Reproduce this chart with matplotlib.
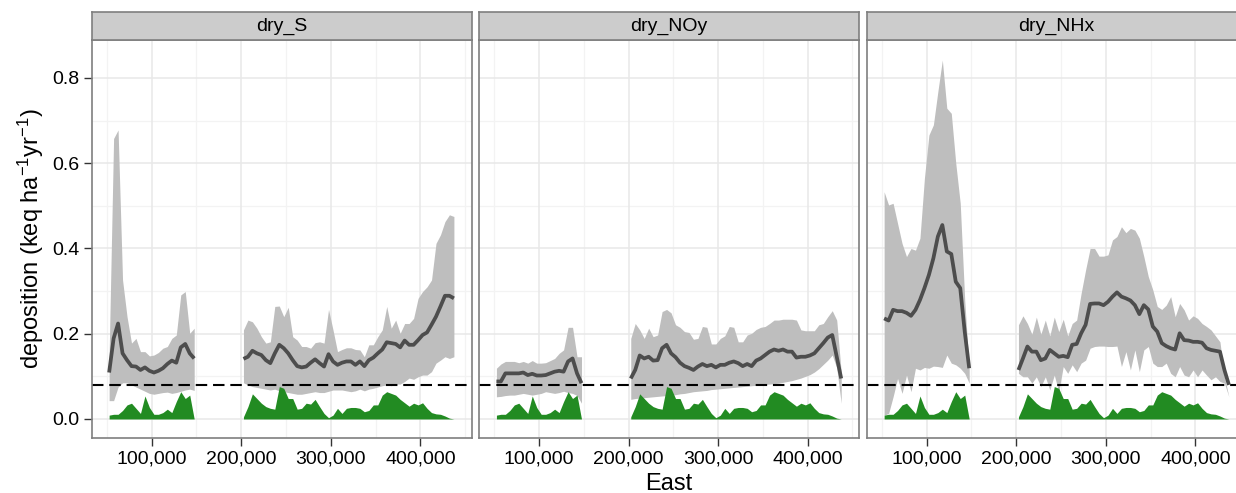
import numpy as np
import matplotlib
matplotlib.use("Agg")
import matplotlib.pyplot as plt
from matplotlib.ticker import FuncFormatter

plt.rcParams['font.family'] = ['Liberation Sans', 'DejaVu Sans']
plt.rcParams['mathtext.fontset'] = 'custom'
plt.rcParams['mathtext.rm'] = 'Liberation Sans'
plt.rcParams['mathtext.it'] = 'Liberation Sans:italic'

# ---------------- data ----------------
panels = ["dry_S", "dry_NOy", "dry_NHx"]

east_seg1 = [52500, 57500, 62500, 67500, 72500, 77500, 82500, 87500, 92500, 97500,
             102500, 107500, 112500, 117500, 122500, 127500, 132500, 137500, 142500, 147500]
east_seg2 = [202500, 207500, 212500, 217500, 222500, 227500, 232500, 237500, 242500, 247500,
             252500, 257500, 262500, 267500, 272500, 277500, 282500, 287500, 292500, 297500,
             302500, 307500, 312500, 317500, 322500, 327500, 332500, 337500, 342500, 347500,
             352500, 357500, 362500, 367500, 372500, 377500, 382500, 387500, 392500, 397500,
             402500, 407500, 412500, 417500, 422500, 427500, 432500, 437500]

# green area (same in every panel)
green_seg1 = [0.009, 0.011, 0.011, 0.020, 0.033, 0.037, 0.025, 0.013, 0.054, 0.027,
              0.011, 0.011, 0.015, 0.023, 0.015, 0.041, 0.064, 0.048, 0.056, 0.0]
green_seg2 = [0.005, 0.029, 0.059, 0.048, 0.037, 0.029, 0.025, 0.023, 0.076, 0.072,
              0.048, 0.048, 0.023, 0.025, 0.037, 0.035, 0.046, 0.029, 0.013, 0.003,
              0.009, 0.025, 0.013, 0.025, 0.027, 0.027, 0.025, 0.017, 0.020, 0.033,
              0.033, 0.056, 0.064, 0.060, 0.056, 0.046, 0.038, 0.030, 0.037, 0.033,
              0.038, 0.025, 0.015, 0.012, 0.011, 0.007, 0.002, 0.0]

# dry_S
s_mid1 = [0.109, 0.189, 0.224, 0.154, 0.138, 0.124, 0.123, 0.115, 0.121, 0.113,
          0.109, 0.113, 0.119, 0.129, 0.137, 0.132, 0.168, 0.176, 0.154, 0.142]
s_hi1 = [0.150, 0.658, 0.678, 0.326, 0.240, 0.178, 0.189, 0.158, 0.158, 0.148,
         0.150, 0.156, 0.166, 0.170, 0.189, 0.197, 0.291, 0.299, 0.201, 0.213]
s_lo1 = [0.043, 0.043, 0.075, 0.085, 0.085, 0.080, 0.075, 0.070, 0.065, 0.060,
         0.058, 0.060, 0.062, 0.063, 0.060, 0.062, 0.065, 0.068, 0.070, 0.067]
s_mid2 = [0.141, 0.146, 0.160, 0.154, 0.150, 0.138, 0.131, 0.154, 0.174, 0.166,
          0.154, 0.138, 0.124, 0.121, 0.123, 0.132, 0.140, 0.131, 0.123, 0.152,
          0.135, 0.127, 0.132, 0.135, 0.135, 0.127, 0.135, 0.124, 0.138, 0.144,
          0.154, 0.163, 0.180, 0.178, 0.176, 0.168, 0.184, 0.174, 0.174, 0.185,
          0.197, 0.203, 0.221, 0.240, 0.264, 0.289, 0.289, 0.283]
s_hi2 = [0.209, 0.232, 0.228, 0.213, 0.193, 0.178, 0.181, 0.264, 0.265, 0.240,
         0.262, 0.193, 0.185, 0.170, 0.170, 0.166, 0.179, 0.181, 0.178, 0.257,
         0.209, 0.158, 0.163, 0.167, 0.167, 0.163, 0.162, 0.146, 0.174, 0.174,
         0.193, 0.209, 0.264, 0.213, 0.232, 0.201, 0.224, 0.224, 0.236, 0.283,
         0.299, 0.310, 0.326, 0.412, 0.432, 0.463, 0.479, 0.475]
s_lo2 = [0.085, 0.080, 0.076, 0.074, 0.072, 0.070, 0.068, 0.070, 0.066, 0.064,
         0.062, 0.060, 0.058, 0.058, 0.060, 0.062, 0.064, 0.062, 0.062, 0.065,
         0.068, 0.068, 0.068, 0.066, 0.064, 0.066, 0.070, 0.066, 0.070, 0.072,
         0.075, 0.078, 0.080, 0.078, 0.082, 0.082, 0.088, 0.096, 0.093, 0.099,
         0.103, 0.103, 0.111, 0.131, 0.138, 0.146, 0.142, 0.146]

# dry_NOy
n_mid1 = [0.088, 0.088, 0.107, 0.107, 0.107, 0.107, 0.109, 0.103, 0.106, 0.102,
          0.102, 0.103, 0.107, 0.111, 0.113, 0.111, 0.135, 0.142, 0.107, 0.084]
n_hi1 = [0.119, 0.129, 0.135, 0.135, 0.135, 0.132, 0.135, 0.131, 0.137, 0.131,
         0.131, 0.132, 0.137, 0.142, 0.154, 0.162, 0.215, 0.215, 0.146, 0.146]
n_lo1 = [0.052, 0.053, 0.055, 0.056, 0.056, 0.058, 0.060, 0.058, 0.056, 0.058,
         0.060, 0.064, 0.062, 0.060, 0.062, 0.065, 0.062, 0.060, 0.055, 0.037]
n_mid2 = [0.095, 0.115, 0.149, 0.142, 0.146, 0.137, 0.138, 0.166, 0.174, 0.154,
          0.145, 0.132, 0.124, 0.120, 0.115, 0.123, 0.129, 0.124, 0.127, 0.121,
          0.127, 0.127, 0.132, 0.135, 0.131, 0.124, 0.129, 0.124, 0.137, 0.142,
          0.150, 0.158, 0.163, 0.160, 0.163, 0.158, 0.158, 0.144, 0.146, 0.146,
          0.149, 0.154, 0.166, 0.178, 0.191, 0.197, 0.146, 0.095]
n_hi2 = [0.189, 0.224, 0.209, 0.189, 0.213, 0.193, 0.197, 0.252, 0.257, 0.249,
         0.221, 0.215, 0.205, 0.203, 0.187, 0.189, 0.217, 0.215, 0.176, 0.176,
         0.189, 0.195, 0.217, 0.215, 0.181, 0.181, 0.197, 0.201, 0.210, 0.215,
         0.217, 0.224, 0.232, 0.232, 0.234, 0.234, 0.234, 0.232, 0.209, 0.207,
         0.207, 0.207, 0.221, 0.224, 0.240, 0.254, 0.232, 0.110]
n_lo2 = [0.046, 0.048, 0.049, 0.050, 0.051, 0.052, 0.053, 0.054, 0.055, 0.056,
         0.057, 0.059, 0.060, 0.062, 0.064, 0.065, 0.066, 0.067, 0.069, 0.070,
         0.071, 0.072, 0.073, 0.074, 0.075, 0.076, 0.077, 0.078, 0.079, 0.080,
         0.081, 0.082, 0.083, 0.084, 0.086, 0.088, 0.090, 0.093, 0.096, 0.100,
         0.104, 0.110, 0.118, 0.128, 0.138, 0.150, 0.120, 0.037]

# dry_NHx
h_mid1 = [0.236, 0.231, 0.256, 0.253, 0.253, 0.249, 0.242, 0.256, 0.279, 0.307,
          0.338, 0.377, 0.428, 0.455, 0.393, 0.387, 0.322, 0.307, 0.205, 0.119]
h_hi1 = [0.533, 0.502, 0.506, 0.459, 0.412, 0.381, 0.400, 0.396, 0.424, 0.565,
         0.666, 0.690, 0.768, 0.842, 0.729, 0.717, 0.600, 0.506, 0.279, 0.115]
h_lo1 = [0.009, 0.013, 0.052, 0.095, 0.060, 0.103, 0.064, 0.119, 0.115, 0.121,
         0.119, 0.124, 0.123, 0.121, 0.150, 0.131, 0.127, 0.119, 0.107, 0.084]
h_mid2 = [0.115, 0.142, 0.170, 0.158, 0.158, 0.138, 0.142, 0.162, 0.154, 0.146,
          0.148, 0.145, 0.174, 0.176, 0.201, 0.221, 0.270, 0.271, 0.271, 0.267,
          0.275, 0.287, 0.297, 0.287, 0.283, 0.278, 0.267, 0.246, 0.267, 0.257,
          0.217, 0.205, 0.178, 0.171, 0.166, 0.163, 0.201, 0.185, 0.184, 0.181,
          0.181, 0.179, 0.166, 0.162, 0.160, 0.158, 0.115, 0.080]
h_hi2 = [0.221, 0.242, 0.224, 0.199, 0.239, 0.199, 0.232, 0.195, 0.239, 0.205,
         0.234, 0.195, 0.224, 0.232, 0.295, 0.350, 0.400, 0.400, 0.382, 0.382,
         0.385, 0.420, 0.428, 0.451, 0.437, 0.447, 0.443, 0.424, 0.381, 0.334,
         0.303, 0.264, 0.257, 0.267, 0.287, 0.240, 0.271, 0.256, 0.232, 0.242,
         0.236, 0.224, 0.217, 0.209, 0.195, 0.181, 0.099, 0.052]
h_lo2 = [0.107, 0.099, 0.099, 0.084, 0.099, 0.076, 0.099, 0.068, 0.103, 0.064,
         0.123, 0.107, 0.127, 0.111, 0.131, 0.138, 0.166, 0.170, 0.171, 0.171,
         0.170, 0.170, 0.171, 0.123, 0.158, 0.115, 0.162, 0.111, 0.162, 0.170,
         0.131, 0.123, 0.123, 0.131, 0.107, 0.099, 0.123, 0.103, 0.099, 0.115,
         0.099, 0.115, 0.103, 0.092, 0.099, 0.088, 0.084, 0.052]

threshold = 0.08

panel_data = {
    "dry_S": [(s_lo1, s_mid1, s_hi1), (s_lo2, s_mid2, s_hi2)],
    "dry_NOy": [(n_lo1, n_mid1, n_hi1), (n_lo2, n_mid2, n_hi2)],
    "dry_NHx": [(h_lo1, h_mid1, h_hi1), (h_lo2, h_mid2, h_hi2)],
}
east_segs = [east_seg1, east_seg2]
green_segs = [green_seg1, green_seg2]

y_ticks = [0.0, 0.2, 0.4, 0.6, 0.8]
y_minor = [0.1, 0.3, 0.5, 0.7]
x_ticks = [100000, 200000, 300000, 400000]
x_minor = [50000, 150000, 250000, 350000, 450000]

# ---------------- figure ----------------
W, H = 1236, 493
fig = plt.figure(figsize=(W / 100, H / 100), dpi=100)

lefts = [91.7, 479.0, 866.7]
pw = 380.0
ptop, pbot = 40.0, 437.7
stop = 12.0

grid_major = '#e8e8e8'
grid_minor = '#f3f3f3'
border = '#7f7f7f'

for i, name in enumerate(panels):
    l = lefts[i]
    ax = fig.add_axes([l / W, (H - pbot) / H, pw / W, (pbot - ptop) / H])
    ax.set_xlim(33040, 457370)
    ax.set_ylim(-0.0439, 0.889)
    for v in y_minor:
        ax.axhline(v, color=grid_minor, lw=0.9, zorder=0)
    for v in x_minor:
        ax.axvline(v, color=grid_minor, lw=0.9, zorder=0)
    for v in y_ticks:
        ax.axhline(v, color=grid_major, lw=1.1, zorder=0.5)
    for v in x_ticks:
        ax.axvline(v, color=grid_major, lw=1.1, zorder=0.5)

    for seg, (lo, mid, hi) in enumerate(panel_data[name]):
        ax.fill_between(east_segs[seg], lo, hi, color='#bebebe', lw=0, zorder=1)
    for seg in range(2):
        ax.fill_between(east_segs[seg], 0, green_segs[seg], color='#228b22', lw=0, zorder=2)
    ax.axhline(threshold, color='black', lw=1.5, ls=(0, (5.5, 2.8)), zorder=3)
    for seg, (lo, mid, hi) in enumerate(panel_data[name]):
        ax.plot(east_segs[seg], mid, color='#4d4d4d', lw=2.7, zorder=4,
                solid_joinstyle='round', solid_capstyle='butt')

    ax.set_xticks(x_ticks)
    ax.xaxis.set_major_formatter(FuncFormatter(lambda v, p: f"{int(v):,}"))
    ax.set_yticks(y_ticks)
    if i == 0:
        ax.set_yticklabels([f"{v:.1f}" for v in y_ticks])
        ax.tick_params(axis='y', length=6, width=1.0, color='#333333',
                       labelsize=14, pad=3, labelcolor='black')
        ax.set_ylabel(r'deposition (keq ha$^{-1}$yr$^{-1}$)', fontsize=17, labelpad=4)
    else:
        ax.tick_params(axis='y', length=0, labelleft=False)
    ax.tick_params(axis='x', length=6, width=1.0, color='#333333',
                   labelsize=14, pad=3, labelcolor='black')
    for sp in ax.spines.values():
        sp.set_color(border)
        sp.set_linewidth(1.2)
        sp.set_zorder(10)
    if i == 1:
        ax.set_xlabel('East', fontsize=17, labelpad=4)

    sax = fig.add_axes([l / W, (H - ptop) / H, pw / W, (ptop - stop) / H])
    sax.set_facecolor('#cccccc')
    sax.set_xticks([])
    sax.set_yticks([])
    for sp in sax.spines.values():
        sp.set_color(border)
        sp.set_linewidth(1.2)
    sax.text(0.5, 0.47, name, ha='center', va='center', fontsize=14,
             transform=sax.transAxes, color='black')

fig.savefig('out.png', dpi=100)
